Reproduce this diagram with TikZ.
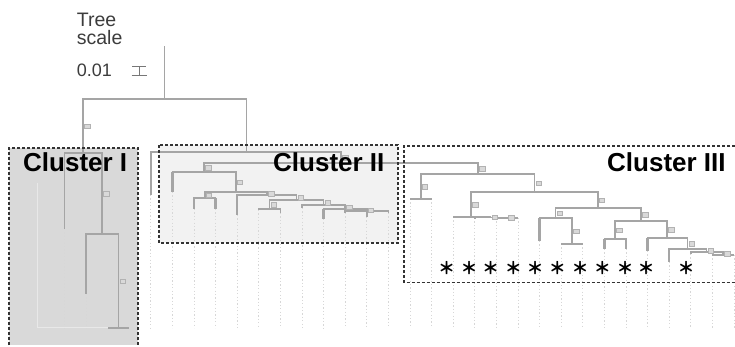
\documentclass[tikz,border=0pt]{standalone}
\usepackage{fontspec}
\setmainfont{Liberation Sans}
\newfontfamily\cjkfont{Noto Sans CJK JP}
\usetikzlibrary{calc}
\definecolor{brc}{RGB}{165,165,165}
\definecolor{guidec}{RGB}{215,215,215}
\definecolor{fillone}{RGB}{217,217,217}
\definecolor{filltwo}{RGB}{242,242,242}
\definecolor{faintc}{RGB}{232,232,232}
\definecolor{txtc}{RGB}{60,60,60}
\begin{document}
\begin{tikzpicture}[x=1pt,y=-1pt,
  branch/.style={draw=brc,line width=1.6pt},
  thicktip/.style={draw=brc,line width=2.6pt},
  guide/.style={draw=guidec,line width=0.8pt,dash pattern=on 1.2pt off 2.2pt},
  clbox/.style={draw=black!80,line width=1.1pt,dash pattern=on 3pt off 2pt},
  bslab/.style={draw=gray!60,fill=gray!30,line width=0.4pt,minimum width=5.5pt,minimum height=4.5pt,inner sep=0pt,anchor=west,xshift=1.2pt},
  cltxt/.style={font=\fontsize{26}{28}\selectfont\bfseries,anchor=base west,inner sep=0pt,text=black},
  star/.style={font=\cjkfont\bfseries\fontsize{17}{18}\selectfont,inner sep=0pt,anchor=center}]
\useasboundingbox (0,0) rectangle (735,346);
% cluster backgrounds
\fill[fillone] (9,148) rectangle (138,345);
\fill[filltwo] (159,145) rectangle (398,243);
% faint lines in cluster I
\draw[faintc,line width=1pt] (37,183) -- (37,327) -- (128,327);
% tree coordinates
\coordinate (rtop) at (164.6,46);
\coordinate (root) at (164.6,99);
\coordinate (c1) at (83.2,153);
\coordinate (tm4) at (64.3,229);
\coordinate (c1a) at (102.1,234);
\coordinate (tm3) at (85.9,294);
\coordinate (c1b) at (118.3,328);
\coordinate (tm2) at (107.5,328);
\coordinate (tm1) at (129.1,328);
\coordinate (n246) at (246.3,152);
\coordinate (t0) at (150.7,195);
\coordinate (n342) at (341,163);
\coordinate (N2) at (204,172);
\coordinate (t1) at (172.3,192);
\coordinate (A) at (235.7,192);
\coordinate (B) at (204.7,198);
\coordinate (t2) at (193.9,209);
\coordinate (t3) at (215.5,209);
\coordinate (C) at (266.8,195);
\coordinate (t4) at (237.1,215);
\coordinate (D) at (296.4,200);
\coordinate (E) at (269.5,209);
\coordinate (t5) at (258.7,210);
\coordinate (t6) at (280.3,213);
\coordinate (F) at (323.5,205);
\coordinate (t7) at (301.9,208);
\coordinate (G) at (345.1,209);
\coordinate (t8) at (323.5,219);
\coordinate (H) at (366.7,211);
\coordinate (t9) at (345.1,213);
\coordinate (t10) at (366.7,217);
\coordinate (t11) at (388.3,213);
\coordinate (C3) at (477.8,174);
\coordinate (J) at (420.7,199);
\coordinate (t12) at (409.9,199);
\coordinate (t13) at (431.5,199);
\coordinate (K) at (534.5,192);
\coordinate (P) at (471,217);
\coordinate (t14) at (453.1,217);
\coordinate (Q) at (490.5,217.5);
\coordinate (t15) at (474.7,218);
\coordinate (R) at (507.1,218);
\coordinate (t16) at (496.3,218);
\coordinate (t17) at (517.9,218);
\coordinate (S) at (597.7,208);
\coordinate (T) at (555.3,218);
\coordinate (t18) at (539.5,241);
\coordinate (U) at (571.9,244);
\coordinate (t19) at (561.1,244);
\coordinate (t20) at (582.7,244);
\coordinate (V) at (640.9,221);
\coordinate (W) at (615.1,239);
\coordinate (t21) at (604.3,249);
\coordinate (t22) at (625.9,249);
\coordinate (X) at (667,238);
\coordinate (t23) at (647.5,251);
\coordinate (Y) at (687.3,249);
\coordinate (t24) at (669.1,262);
\coordinate (Z) at (706.5,252);
\coordinate (t25) at (690.7,254);
\coordinate (Z2) at (723.1,255);
\coordinate (t26) at (712.3,255);
\coordinate (t27) at (733.9,255);
\coordinate (bot) at (0,328);
% guides
\foreach \t in {tm4,tm3,t0,t1,t2,t3,t4,t5,t6,t7,t8,t9,t10,t11,t12,t13,t14,t15,t16,t17,t18,t19,t20,t21,t22,t23,t24,t25,t26,t27}
  \draw[guide] (\t) -- (\t |- bot);
% branches
\draw[branch] (rtop) -- (root);
\foreach \p/\c in {root/c1,root/n246,c1/tm4,c1/c1a,c1a/tm3,c1a/c1b,c1b/tm2,c1b/tm1,
  n246/t0,n246/n342,n342/N2,n342/C3,N2/t1,N2/A,A/B,A/C,B/t2,B/t3,C/t4,C/D,D/E,D/F,
  E/t5,E/t6,F/t7,F/G,G/t8,G/H,H/t9,H/t10,H/t11,C3/J,C3/K,J/t12,J/t13,K/P,K/S,
  P/t14,P/Q,Q/t15,Q/R,R/t16,R/t17,S/T,S/V,T/t18,T/U,U/t19,U/t20,V/W,V/X,
  W/t21,W/t22,X/t23,X/Y,Y/t24,Y/Z,Z/t25,Z/Z2,Z2/t26,Z2/t27}
  \draw[branch] (\p) -| (\c);
\foreach \p/\c in {N2/t1,B/t2,B/t3,C/t4,G/t8,T/t18,W/t21,W/t22,X/t23,Y/t24}
  \draw[thicktip] (\c |- \p) -- (\c);
% support labels
\foreach \c/\p in {c1/root,c1a/c1,c1b/c1a,n342/n246,N2/n342,A/N2,B/A,C/A,D/C,E/D,F/D,G/F,H/G,
  C3/n342,J/C3,K/C3,P/K,Q/P,R/Q,S/K,T/S,U/T,V/S,W/V,X/V,Y/X,Z/Y,Z2/Z}
  \node[bslab] (lab-\c) at ($(\c)!0.5!(\c |- \p)$) {};
% cluster outlines
\draw[clbox] (9,345) -- (9,148) -- (138,148) -- (138,345);
\draw[clbox] (159,145) rectangle (398,243);
\draw[clbox] (735,146) -- (404,146) -- (404,282.5) -- (735,282.5);
% labels
\node[cltxt] (cl1) at (23,171.5) {Cluster I};
\node[cltxt] (cl2) at (273,171.5) {Cluster II};
\node[cltxt] (cl3) at (607,171.5) {Cluster III};
% tree scale
\node[anchor=base west,inner sep=0pt,text=txtc,font=\fontsize{19.5}{20}\selectfont] (tscale1) at (76.7,26.2) {Tree};
\node[anchor=base west,inner sep=0pt,text=txtc,font=\fontsize{19.5}{20}\selectfont] (tscale2) at (76.7,44) {scale};
\node[anchor=base west,inner sep=0pt,text=txtc,font=\fontsize{18}{20}\selectfont] (tval) at (76.7,76) {0.01};
\draw[txtc!70,line width=1pt] (132,66.7) -- (146,66.7) (131.5,75) -- (146.5,75) (139,66.7) -- (139,75);
% asterisks
\foreach \x [count=\i] in {446.7,469,490.7,513.3,535,557.3,580,602.3,625,646,686}
  \node[star] (st\i) at (\x,268) {＊};
\end{tikzpicture}
\end{document}
